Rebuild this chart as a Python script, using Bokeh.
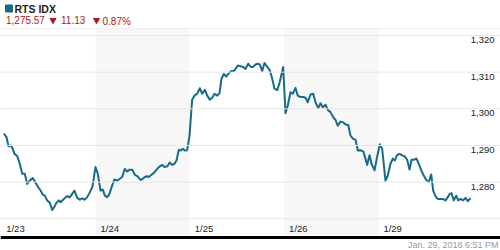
from bokeh.plotting import figure
from bokeh.models import Range1d, Span
from bokeh.core.properties import value
from bokeh.embed import file_html
from bokeh.resources import INLINE

# ---------------- data ----------------
index_name = "RTS IDX"
last_price = 1275.57
change = -11.13
change_pct = -0.87
timestamp = "Jan. 29, 2018 6:51 PM"

day_labels = ["1/23", "1/24", "1/25", "1/26", "1/29"]
shaded_days = [1, 3]
y_ticks = [1270, 1280, 1290, 1300, 1310, 1320]

# time in trading-day units (0 = start of 1/23)
times = [
    0.028, 0.056, 0.077, 0.099, 0.117, 0.141, 0.170, 0.197, 0.223, 0.250,
    0.276, 0.303, 0.335, 0.356, 0.388, 0.417, 0.441, 0.462, 0.488, 0.515,
    0.541, 0.565, 0.586, 0.611, 0.629, 0.664, 0.700, 0.727, 0.753, 0.777,
    0.806, 0.834, 0.859, 0.883, 0.912, 0.940, 0.968, 1.000, 1.024, 1.053,
    1.077, 1.099, 1.124, 1.148, 1.177, 1.201, 1.230, 1.258, 1.283, 1.311,
    1.336, 1.361, 1.389, 1.417, 1.449, 1.477, 1.502, 1.523, 1.548, 1.565,
    1.594, 1.626, 1.654, 1.682, 1.707, 1.732, 1.760, 1.788, 1.813, 1.838,
    1.859, 1.883, 1.901, 1.926, 1.947, 1.972, 1.997, 2.025, 2.050, 2.078,
    2.106, 2.132, 2.159, 2.185, 2.212, 2.238, 2.262, 2.291, 2.315, 2.336,
    2.361, 2.386, 2.414, 2.439, 2.467, 2.485, 2.509, 2.538, 2.566, 2.591,
    2.619, 2.644, 2.668, 2.697, 2.721, 2.742, 2.768, 2.792, 2.821, 2.848,
    2.874, 2.898, 2.927, 2.954, 2.990, 3.015, 3.039, 3.068, 3.092, 3.121,
    3.145, 3.174, 3.203, 3.227, 3.251, 3.280, 3.309, 3.333, 3.362, 3.386,
    3.410, 3.439, 3.463, 3.492, 3.521, 3.545, 3.569, 3.598, 3.627, 3.651,
    3.680, 3.704, 3.733, 3.757, 3.782, 3.810, 3.839, 3.863, 3.881, 3.906,
    3.927, 3.959, 3.987, 4.015, 4.040, 4.075, 4.100, 4.128, 4.153, 4.174,
    4.199, 4.224, 4.252, 4.280, 4.305, 4.330, 4.351, 4.375, 4.404, 4.428,
    4.454, 4.481, 4.507, 4.534, 4.560, 4.581, 4.606, 4.630, 4.659, 4.683,
    4.712, 4.736, 4.757, 4.775, 4.800, 4.825, 4.846, 4.871, 4.899, 4.924,
    4.948, 4.977,
]
values = [
    1293.2, 1292.3, 1289.8, 1290.0, 1289.4, 1287.7, 1287.1, 1285.0, 1282.3, 1282.3,
    1279.5, 1280.4, 1281.1, 1280.2, 1278.8, 1277.7, 1276.6, 1276.3, 1275.0, 1274.4,
    1272.4, 1273.3, 1274.4, 1275.0, 1274.5, 1275.4, 1276.2, 1275.8, 1276.8, 1277.7,
    1275.7, 1275.2, 1275.6, 1275.2, 1275.9, 1277.2, 1278.8, 1284.1, 1282.3, 1277.7,
    1278.0, 1276.3, 1275.9, 1276.8, 1279.1, 1280.7, 1280.4, 1280.9, 1281.4, 1283.6,
    1282.9, 1283.4, 1283.4, 1282.0, 1281.5, 1280.6, 1280.9, 1281.4, 1281.6, 1281.4,
    1282.0, 1282.7, 1283.6, 1284.3, 1284.7, 1284.1, 1284.3, 1285.3, 1284.7, 1285.0,
    1285.9, 1288.8, 1288.6, 1289.1, 1288.6, 1288.7, 1292.7, 1302.5, 1303.6, 1304.1,
    1305.6, 1304.1, 1305.2, 1303.6, 1302.5, 1303.0, 1304.1, 1303.6, 1304.3, 1308.2,
    1309.5, 1308.8, 1309.7, 1310.3, 1310.3, 1310.9, 1311.8, 1311.6, 1311.4, 1310.9,
    1312.3, 1311.5, 1311.4, 1312.1, 1312.3, 1312.1, 1310.3, 1312.5, 1311.5, 1310.5,
    1308.2, 1305.5, 1305.1, 1307.3, 1311.4, 1298.8, 1300.9, 1304.5, 1304.1, 1305.7,
    1303.6, 1303.2, 1303.2, 1303.0, 1301.8, 1303.9, 1304.1, 1301.8, 1300.2, 1301.5,
    1300.4, 1301.1, 1299.7, 1299.1, 1297.7, 1297.0, 1295.4, 1296.5, 1296.3, 1295.7,
    1295.6, 1292.7, 1291.8, 1291.6, 1288.6, 1288.7, 1288.4, 1286.4, 1284.7, 1287.3,
    1285.0, 1283.2, 1287.0, 1290.3, 1289.1, 1280.4, 1281.8, 1285.0, 1286.4, 1285.9,
    1287.4, 1287.7, 1287.3, 1287.0, 1286.1, 1283.4, 1286.1, 1286.1, 1286.4, 1285.0,
    1283.2, 1281.8, 1280.6, 1280.0, 1282.1, 1277.7, 1276.1, 1275.4, 1275.4, 1275.4,
    1275.0, 1275.9, 1276.8, 1277.0, 1275.0, 1276.3, 1275.0, 1275.4, 1275.0, 1275.7,
    1274.8, 1275.6,
]

# ---------------- layout helpers (pixel -> data) ----------------
W, H = 500, 250
DAY_PX = 94.3
X_OFF = 0.7
Y_REF_PX = 35.0   # pixel row of the top gridline
Y_PX_PER_UNIT = 3.665


def px_x(px):
    return (px - X_OFF) / DAY_PX


def px_y(py):
    return y_ticks[-1] - (py - Y_REF_PX) / Y_PX_PER_UNIT


LINE_COLOR = "#176b87"
RED = "#a61c1c"
FONT = value("Liberation Sans")

p = figure(width=W, height=H, output_backend="svg", toolbar_location=None,
           x_range=Range1d(px_x(0), px_x(W)), y_range=Range1d(px_y(H), px_y(0)),
           min_border=0, min_border_left=0, min_border_right=0,
           min_border_top=0, min_border_bottom=0)
p.axis.visible = False
p.grid.visible = False
p.outline_line_color = None
p.background_fill_color = "white"
p.border_fill_color = "white"

# shaded alternate days
p.quad(left=shaded_days, right=[d + 1 for d in shaded_days],
       top=px_y(28), bottom=px_y(235), fill_color="#f7f7f7", line_color=None)

# top border and gridlines
p.add_layout(Span(location=px_y(28), dimension="width", line_color="#eeeeee", line_width=1))
for t in y_ticks:
    p.add_layout(Span(location=t, dimension="width", line_color="#e6e6e6", line_width=1))

# price line
p.line(times, values, line_color=LINE_COLOR, line_width=2, line_join="round")

# bottom axis line
p.add_layout(Span(location=px_y(237), dimension="width", line_color="black", line_width=3))

# y labels (skip the lowest)
lab_ticks = y_ticks[1:]
p.text(x=[px_x(494)] * len(lab_ticks), y=[t - 0.45 for t in lab_ticks],
       text=[f"{t:,}" for t in lab_ticks], text_font=FONT, text_font_size="9.5px",
       text_align="right", text_baseline="top", text_color="#222222")

# x labels
p.text(x=[d + px_x(5) - px_x(0) for d in range(len(day_labels))],
       y=[px_y(222.5)] * len(day_labels), text=day_labels, text_font=FONT,
       text_font_size="9.5px", text_align="left", text_baseline="top",
       text_color="#222222")

# header
p.scatter(x=[px_x(8.5)], y=[px_y(8)], marker="square", size=7,
          color=LINE_COLOR)
p.text(x=[px_x(14)], y=[px_y(2.3)], text=[index_name], text_font=FONT,
       text_font_size="10.5px", text_font_style="bold", text_baseline="top",
       text_color="#222222")
p.text(x=[px_x(5.5)], y=[px_y(15.5)], text=[f"{last_price:,.2f}"], text_font=FONT,
       text_font_size="10px", text_baseline="top", text_color=RED)
p.scatter(x=[px_x(52.5), px_x(96)], y=[px_y(19.7)] * 2, marker="inverted_triangle",
          size=6, color=RED)
p.text(x=[px_x(60.5), px_x(102)], y=[px_y(15.5)] * 2,
       text=[f"{abs(change):.2f}", f"{abs(change_pct):.2f}%"], text_font=FONT,
       text_font_size="10px", text_baseline="top", text_color=RED)

# timestamp
p.text(x=[px_x(498)], y=[px_y(239)], text=[timestamp], text_font=FONT,
       text_font_size="9px", text_align="right", text_baseline="top",
       text_color="#999999")

open("out.html", "w").write(file_html(p, INLINE))
